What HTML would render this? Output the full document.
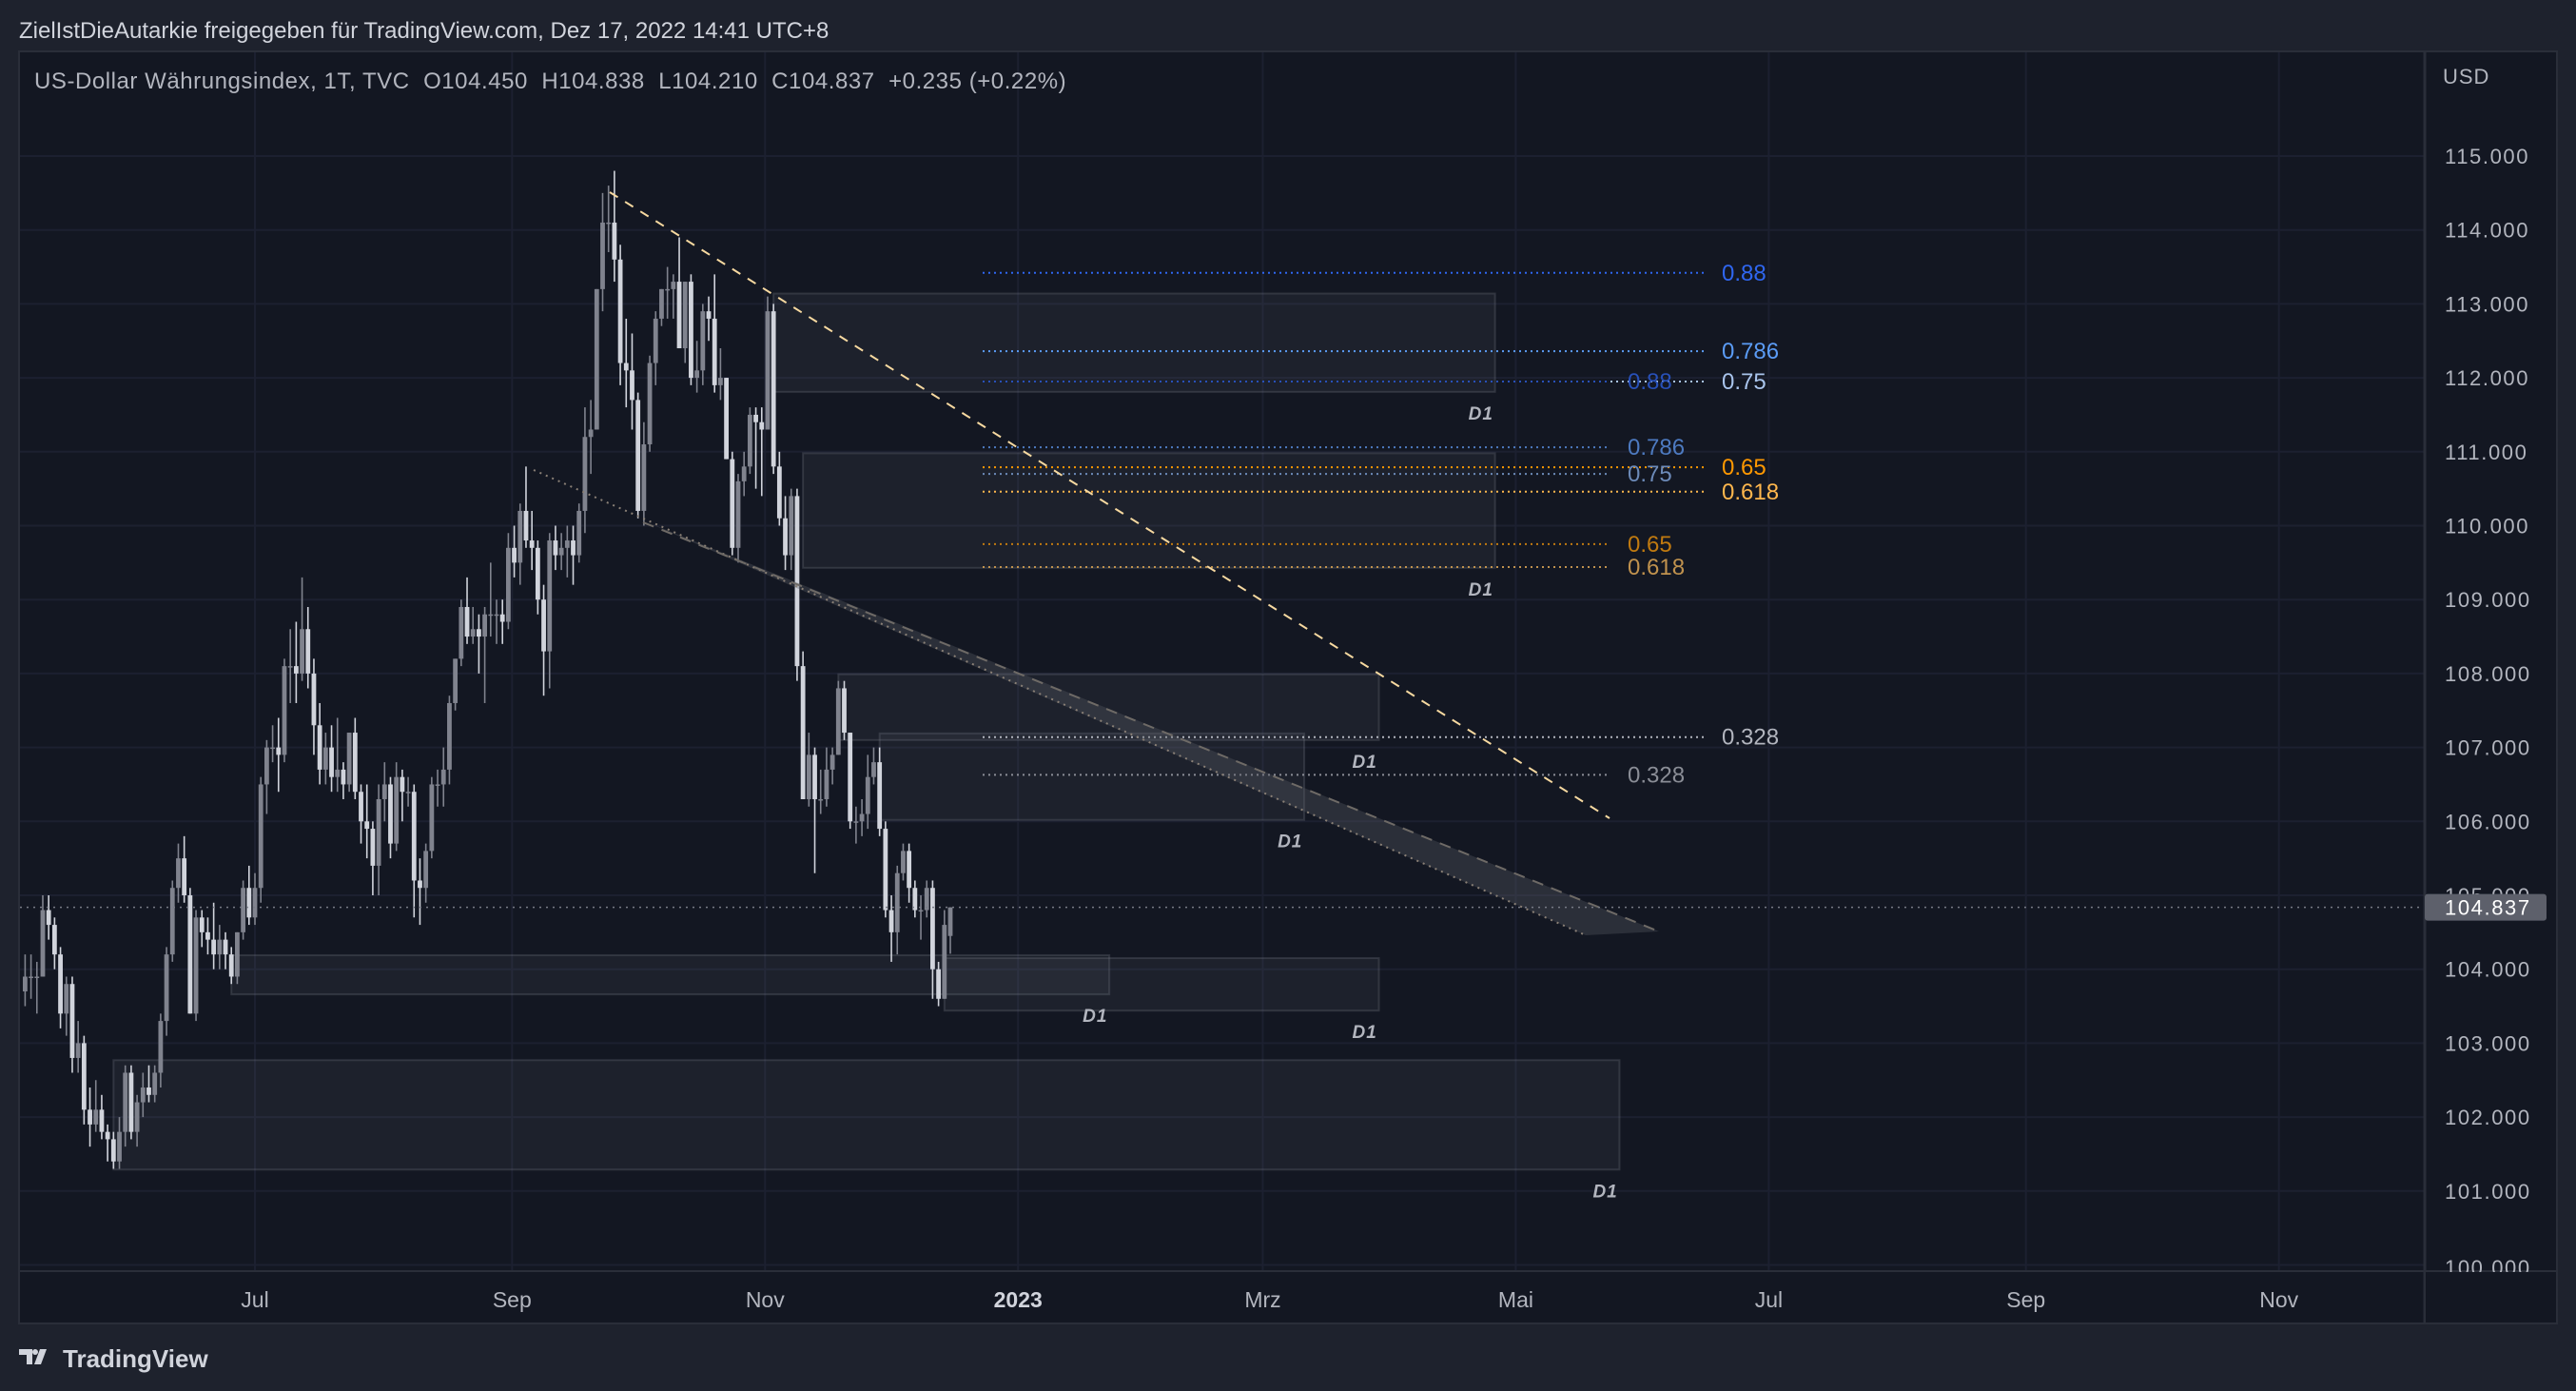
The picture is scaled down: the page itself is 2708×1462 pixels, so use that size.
<!DOCTYPE html>
<html><head><meta charset="utf-8"><style>
html,body{margin:0;padding:0;background:#1e222d;}
svg{display:block;font-family:"Liberation Sans",sans-serif;}
</style></head><body>
<svg id="chart" width="2708" height="1462" viewBox="0 0 2708 1462" xmlns="http://www.w3.org/2000/svg">
<rect x="0" y="0" width="2708" height="1462" fill="#1e222d"/>
<text x="20" y="40" fill="#d1d4dc" font-size="24">ZielIstDieAutarkie freigegeben für TradingView.com, Dez 17, 2022 14:41 UTC+8</text>
<rect x="20" y="54" width="2668" height="1337" fill="#131722" stroke="#2a2e39" stroke-width="2"/>
<g id="grid"></g>
<g id="overlays"></g>
<g id="candles"></g>
<g id="overlays2"></g>
<line x1="2549" y1="54" x2="2549" y2="1391" stroke="#2a2e39" stroke-width="3"/>
<line x1="20" y1="1336" x2="2688" y2="1336" stroke="#2a2e39" stroke-width="2"/>
<g id="axes"></g>
<text x="36" y="93" fill="#b2b5be" font-size="24" letter-spacing="0.55" style="white-space:pre">US-Dollar Währungsindex, 1T, TVC  O104.450  H104.838  L104.210  C104.837  +0.235 (+0.22%)</text>
<text x="2568" y="88" fill="#b2b5be" font-size="22" letter-spacing="1">USD</text>
<g>
<path d="M20 1418 h14 v16 h-6 v-10 h-8z M36 1434 l6 -16 h7 l-6 16z" fill="#d1d4dc"/>
<circle cx="37" cy="1421" r="3" fill="#d1d4dc"/>
<text x="66" y="1437" fill="#d1d4dc" font-size="26" font-weight="bold">TradingView</text>
</g>
</svg>
<script>
const closes=[102.5,103.6,103.7,103.9,103.9,103.9,104.8,104.6,104.2,103.4,103.8,102.8,103.0,102.1,101.9,102.1,101.8,101.7,101.4,101.8,
102.6,101.8,102.2,102.4,102.3,102.6,103.3,104.2,105.1,105.5,105.0,103.4,104.7,104.5,104.4,104.2,104.4,104.2,103.9,104.5,105.1,104.7,
105.1,106.5,107.0,107.0,106.9,108.1,108.1,108.0,108.6,108.0,107.3,106.7,107.0,106.6,106.7,106.5,107.2,106.4,106.0,105.9,
105.4,106.3,106.5,105.7,106.6,106.4,106.4,105.2,105.1,105.6,106.5,106.5,106.7,107.6,108.2,108.9,108.5,108.6,108.5,108.8,108.8,108.8,108.7,
109.7,109.5,110.2,109.8,109.7,109.0,108.3,109.8,109.6,109.7,109.8,109.6,110.2,111.2,111.3,113.2,114.1,114.1,113.6,112.2,112.1,
111.7,110.2,111.1,112.2,112.8,113.2,113.2,113.3,112.4,113.3,112.0,112.1,112.9,112.8,111.9,112.0,110.9,109.7,110.6,110.8,111.5,
111.4,111.3,112.9,110.8,110.1,109.6,110.4,108.1,106.3,106.9,106.3,106.3,106.7,106.9,107.8,107.2,106.0,106.0,106.1,106.6,106.8,105.9,
104.8,104.5,105.3,105.6,105.1,104.8,104.8,105.1,104.0,103.6,104.6,104.837];
const opens=[103.5,102.5,103.6,103.7,103.9,103.9,103.9,104.8,104.6,104.2,103.4,103.8,102.8,103.0,102.1,101.9,102.1,101.8,101.7,101.4,
101.8,102.6,101.8,102.2,102.4,102.3,102.6,103.3,104.2,105.1,105.5,105.0,103.4,104.7,104.5,104.4,104.2,104.4,104.2,103.9,104.5,105.1,
104.7,105.1,106.5,107.0,107.0,106.9,108.1,108.1,108.0,108.6,108.0,107.3,106.7,107.0,106.6,106.7,106.5,107.2,106.4,106.0,
105.9,105.4,106.3,106.5,105.7,106.6,106.4,106.4,105.2,105.1,105.6,106.5,106.5,106.7,107.6,108.2,108.9,108.5,108.6,108.5,108.8,108.8,108.8,
108.7,109.7,109.5,110.2,109.8,109.7,109.0,108.3,109.8,109.6,109.7,109.8,109.6,110.2,111.2,111.3,113.2,114.1,114.1,113.6,112.2,
112.1,111.7,110.2,111.1,112.2,112.8,113.2,113.2,113.3,112.4,113.3,112.0,112.1,112.9,112.8,111.9,112.0,110.9,109.7,110.6,110.8,
111.5,111.4,111.3,112.9,110.8,110.1,109.6,110.4,108.1,106.3,106.9,106.3,106.3,106.7,106.9,107.8,107.2,106.0,106.0,106.1,106.6,106.8,
105.9,104.8,104.5,105.3,105.6,105.1,104.8,104.8,105.1,104.0,103.6,104.45];
const highs=[103.9,103.8,104.0,104.2,104.2,104.1,105.0,105.0,104.7,104.3,103.9,103.9,103.3,103.1,102.4,102.5,102.3,101.9,101.8,102.0,
102.7,102.7,102.3,102.6,102.7,102.7,103.4,104.3,105.2,105.7,105.8,105.1,104.8,104.8,104.7,104.9,104.6,104.5,104.3,104.5,105.2,105.4,
105.3,106.6,107.1,107.3,107.4,108.2,108.6,108.7,109.3,108.9,108.2,107.6,107.2,107.3,107.4,106.8,107.2,107.4,106.5,106.5,
106.0,106.5,106.8,106.6,106.8,106.7,106.6,106.5,105.5,105.7,106.6,106.7,107.0,107.7,108.2,109.0,109.3,108.9,108.8,108.9,109.5,109.0,109.0,
109.9,110.0,110.3,110.8,110.2,109.8,109.2,109.9,110.0,109.9,110.0,110.0,110.3,111.6,111.7,113.2,114.5,114.6,114.8,113.8,112.8,
112.6,111.8,111.4,112.3,112.9,113.2,113.5,113.4,113.9,113.3,113.4,112.5,113.0,113.1,113.4,112.4,112.0,111.0,110.7,111.0,111.6,
111.6,111.6,113.1,113.0,111.0,110.4,110.5,110.5,108.3,107.2,107.0,106.7,107.0,107.0,107.9,107.9,107.2,106.2,106.3,106.9,107.0,107.0,
106.0,105.0,105.4,105.7,105.7,105.2,105.0,105.2,105.2,104.1,104.8,104.838];
const lows=[102.4,102.4,103.2,103.5,103.6,103.4,103.9,104.4,104.0,103.2,103.1,102.6,102.6,101.9,101.6,101.8,101.7,101.4,101.3,101.3,
101.6,101.7,101.6,102.0,102.2,102.2,102.4,103.1,104.1,104.9,104.9,103.4,103.3,104.3,104.2,104.0,104.0,104.0,103.8,103.8,104.4,104.6,
104.6,104.9,106.1,106.8,106.4,106.8,107.6,107.6,107.9,107.8,106.9,106.5,106.5,106.4,106.4,106.3,106.4,106.3,105.7,105.5,
105.0,105.0,106.0,105.5,105.6,106.0,106.2,104.7,104.6,104.9,105.5,106.2,106.2,106.5,107.5,108.1,108.4,108.4,108.0,107.6,108.5,108.4,108.4,
108.6,109.3,109.2,109.7,109.4,108.8,107.7,107.8,109.4,109.4,109.3,109.2,109.5,109.9,110.7,111.3,112.9,113.7,113.3,111.9,111.6,
111.3,110.1,110.0,111.0,111.9,112.7,112.8,112.8,112.4,112.2,111.9,111.8,111.9,112.5,111.8,111.7,110.9,109.6,109.5,110.4,110.7,
110.5,110.4,111.3,110.7,110.0,109.4,109.4,107.9,106.3,106.2,105.3,106.1,106.2,106.5,106.9,107.1,105.9,105.7,105.8,105.9,106.5,105.8,
104.7,104.1,104.2,105.2,104.9,104.7,104.4,104.7,103.6,103.5,103.6,104.210];
const priceTicks=[115,114,113,112,111,110,109,108,107,106,105,104,103,102,101,100];
const timeLabels=["Jul","Sep","Nov","2023","Mrz","Mai","Jul","Sep","Nov"];
const timeDays=[0,62,123,184,243,304,365,427,488]; // days since 2022-07-01
const fibA={levels:["0.88","0.786","0.75","0.65","0.618","0.328"],prices:[113.42,112.36,111.95,110.79,110.46,107.14]};
const fibB={levels:["0.88","0.786","0.75","0.65","0.618","0.328"],prices:[111.95,111.06,110.70,109.75,109.44,106.63]};
const boxTops=[113.14,110.98,107.99,107.19,104.19,104.15,102.77];
const boxBottoms=[111.81,109.43,107.10,106.02,103.66,103.44,101.29];
const boxStartBar=[130,135,141,148,38,159,18];
const boxEndDays=[299,299,271,253,206,271,329];
const lastPrice=104.837;

const NS="http://www.w3.org/2000/svg";
const JUL1_IDX=42, STEP=6.195, X_JUL1=268, PX_DAY=4.36;
function yS(p){return 164+(115-p)*77.7;}
function xBar(i){return X_JUL1+(i-JUL1_IDX)*STEP;}
function xDay(d){return X_JUL1+d*PX_DAY;}
function mk(tag,attrs,parent){const e=document.createElementNS(NS,tag);for(const k in attrs)e.setAttribute(k,attrs[k]);parent.appendChild(e);return e;}
const grid=document.getElementById('grid'),axes=document.getElementById('axes'),cg=document.getElementById('candles'),ov=document.getElementById('overlays'),ov2=document.getElementById('overlays2');

priceTicks.forEach(p=>{
  const l=mk('line',{x1:21,x2:2548,y1:yS(p),y2:yS(p),stroke:'#1c2030','stroke-width':2},grid);
  
  
  if(p<100.5){return;}
  const t=mk('text',{x:2570,y:yS(p)+8,fill:'#b2b5be','font-size':22,'letter-spacing':1.6},axes);
  t.textContent=p.toFixed(3);
  
  
});
{const t=mk('text',{x:2570,y:1340,fill:'#b2b5be','font-size':22,'letter-spacing':1.6},axes);t.textContent='100.000';


mk('rect',{x:2550,y:1337,width:137,height:53,fill:'#131722'},axes);}
timeLabels.forEach((lab,i)=>{
  const x=xDay(timeDays[i]);
  const l=mk('line',{x1:x,x2:x,y1:55,y2:1335,stroke:'#1c2030','stroke-width':2},grid);
  
  
  const t=mk('text',{x:x,y:1374,fill:lab==='2023'?'#d1d4dc':'#b2b5be','font-size':23,'text-anchor':'middle','font-weight':lab==='2023'?'bold':'normal'},axes);
  t.textContent=lab;
  
  
});

boxTops.forEach((top,i)=>{
  const x1=xBar(boxStartBar[i]),x2=xDay(boxEndDays[i]);
  const r=mk('rect',{x:x1,y:yS(top),width:x2-x1,height:yS(boxBottoms[i])-yS(top),fill:'rgba(120,123,134,0.1)',stroke:'rgba(120,123,134,0.28)','stroke-width':2},ov);
  
  
  const t=mk('text',{x:x2-28,y:yS(boxBottoms[i])+29,fill:'#b2b5be','font-size':19,'font-weight':'bold','font-style':'italic','letter-spacing':1},ov2);
  t.textContent='D1';
  
  
});

const colA=['#2f66f0','#5b9cf6','#a9c4ec','#ff9800','#ffb74d','#b2b5be'];
const colB=['#2850b8','#4d7ac0','#6c8ab8','#c07a10','#c0924e','#8a8d96'];
function fib(f,cols,x1,x2,lx){
  f.prices.forEach((p,i)=>{
    const l=mk('line',{x1:x1,x2:x2,y1:yS(p),y2:yS(p),stroke:cols[i],'stroke-width':2,'stroke-dasharray':'2 4'},ov);
    
    
    const t=mk('text',{x:lx,y:yS(p)+8,fill:cols[i],'font-size':24},ov2);
    t.textContent=f.levels[i];
    
    
  });
}
fib(fibA,colA,1033,1791,1810);
fib(fibB,colB,1033,1693,1711);

closes.forEach((c,i)=>{
  const o=opens[i],x=xBar(i);
  if(x<22)return;
  const up=c>=o,col=up?'#80838e':'#d1d4dc';
  const w=mk('line',{x1:x,x2:x,y1:yS(highs[i]),y2:yS(lows[i]),stroke:col,'stroke-width':1.6},cg);
  
  
  const top=yS(Math.max(o,c)),h=Math.max(1.5,Math.abs(yS(o)-yS(c)));
  const b=mk('rect',{x:x-2.4,y:top,width:4.8,height:h,fill:col},cg);
  
  
});

{
const w=mk('polygon',{points:'676,547 1667,983 1744,979',fill:'rgba(90,92,100,0.35)'},ov2);


const a=mk('line',{x1:561,y1:494,x2:1667,y2:983,stroke:'#8a8076','stroke-width':2,'stroke-dasharray':'2 5'},ov2);


const b=mk('line',{x1:676,y1:549,x2:1744,y2:979,stroke:'#6e6a66','stroke-width':2,'stroke-dasharray':'12 9'},ov2);


const y=mk('line',{x1:641,y1:202,x2:1692,y2:860,stroke:'#f7d9a0','stroke-width':2,'stroke-dasharray':'10 9'},ov2);


}
{
const l=mk('line',{x1:21,x2:2548,y1:yS(lastPrice),y2:yS(lastPrice),stroke:'#787b86','stroke-width':1.5,'stroke-dasharray':'2 5'},ov2);


const r=mk('rect',{x:2549,y:yS(lastPrice)-14,width:128,height:28,rx:3,fill:'#5d606b'},axes);


const t=mk('text',{x:2570,y:yS(lastPrice)+8,fill:'#ffffff','font-size':22,'letter-spacing':1.6},axes);
t.textContent=lastPrice.toFixed(3);


}
</script>
</body></html>
